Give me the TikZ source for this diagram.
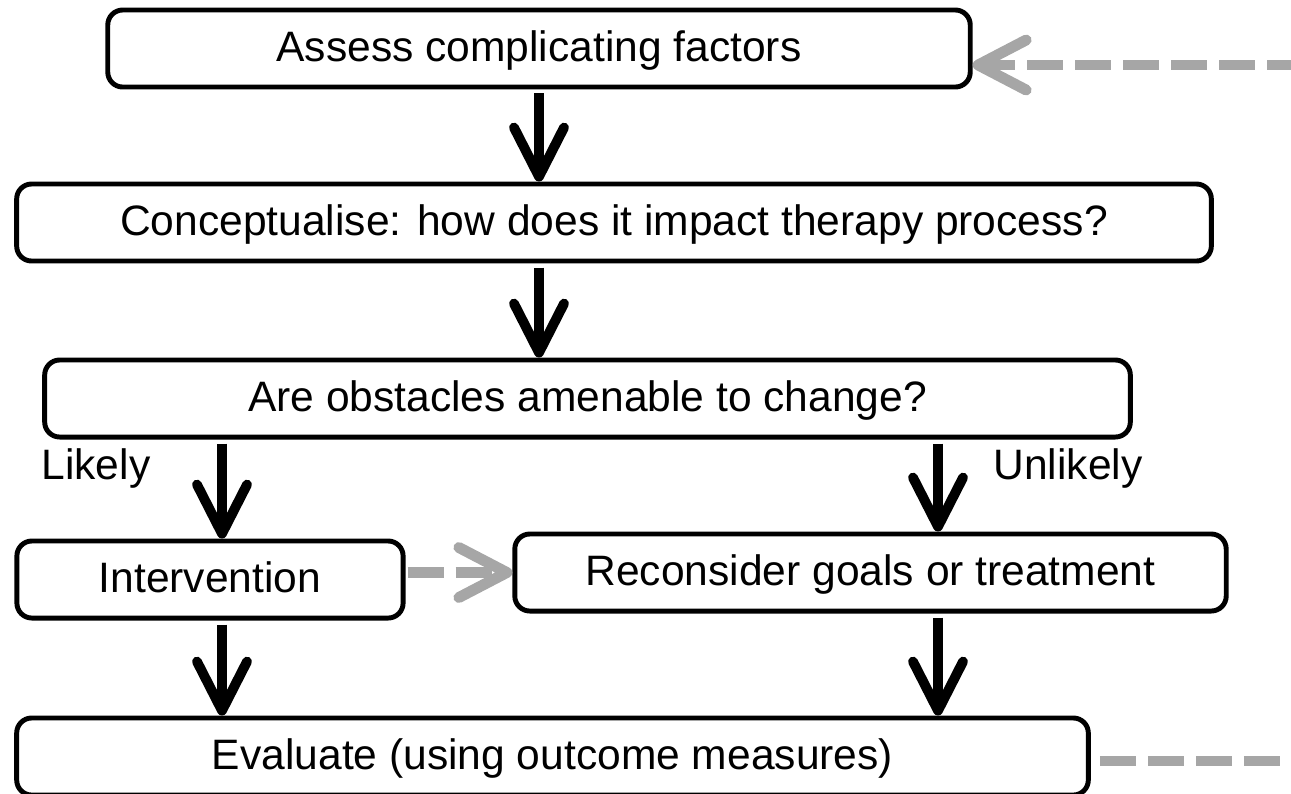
\documentclass[tikz,border=0pt]{standalone}
\usepackage{fontspec}
\setmainfont{Liberation Sans}
\usetikzlibrary{arrows.meta,calc}
\definecolor{gris}{HTML}{A6A6A6}

\begin{document}
\begin{tikzpicture}[   % opciones por defecto
      x=0.01cm,          % una unidad = un pixel
      y=-0.01cm,         % el eje y crece hacia abajo
      font=\fontsize{12.1}{14}\selectfont
    ]
    \tikzstyle{box}=[draw=black, line width=1.4pt, rounded corners=0.15cm,
      minimum height=0.77cm, inner sep=0pt, text height=0.95em, text depth=0.22em];
    \tikzstyle{flow}=[line width=2.8pt, shorten <=0.04cm,
      -{Straight Barb[length=4.9mm, width=5mm, line cap=round, line join=round]}];
    \tikzstyle{feedback}=[draw=gris, line width=3.1pt,
      dash pattern=on 0.36cm off 0.12cm,
      -{Straight Barb[length=4.8mm, width=5mm, line cap=round, line join=round]}];
    %
    \useasboundingbox (0,0) rectangle (1291,793);
    \clip (0,0) rectangle (1291,793);
    %
    % cajas
    \node [box, minimum width=8.62cm]  (assess)     at (539,48.5)    {Assess complicating factors};
    \node [box, minimum width=11.94cm] (concept)    at (614,222.5)   {Conceptualise: how does it impact therapy process?};
    \node [box, minimum width=10.85cm] (obstacles)  at (587.5,398.5) {Are obstacles amenable to change?};
    \node [box, minimum width=3.86cm]  (interv)     at (210,579.5)   {Intervention};
    \node [box, minimum width=7.11cm]  (reconsider) at (870.5,572.5) {Reconsider goals or treatment};
    \node [box, minimum width=10.71cm] (evaluate)   at (552.5,756.5) {Evaluate (using outcome measures)};
    %
    % etiquetas de las ramas
    \node (likely)   at (96,468)   {Likely};
    \node (unlikely) at (1068,468) {Unlikely};
    %
    % flechas principales
    \draw [flow] (assess.south) -- (concept.north -| assess.south);
    \draw [flow] (concept.south -| assess.south) -- (obstacles.north -| assess.south);
    \draw [flow] ($(interv.north |- obstacles.south)+(12,0)$) -- ($(interv.north)+(12,0)$);
    \draw [flow] ($(reconsider.north |- obstacles.south)+(67.5,0)$) -- ($(reconsider.north)+(67.5,0)$);
    \draw [flow] ($(interv.south)+(12,0)$) -- ($(interv.south |- evaluate.north)+(12,0)$);
    \draw [flow] ($(reconsider.south)+(67.5,0)$) -- ($(reconsider.south |- evaluate.north)+(67.5,0)$);
    %
    % lazos de realimentacion
    \coordinate (topright) at (1291,65);
    \coordinate (botright) at (1291,761);
    \draw [feedback, dash phase=0.12cm] (topright) -- (assess.east |- topright);
    \draw [feedback, shorten <=0.02cm] (interv.east |- reconsider.west) -- (reconsider.west);
    \draw [feedback, -, shorten <=0.09cm] (evaluate.east |- botright) -- (botright);
  \end{tikzpicture}
\end{document}
